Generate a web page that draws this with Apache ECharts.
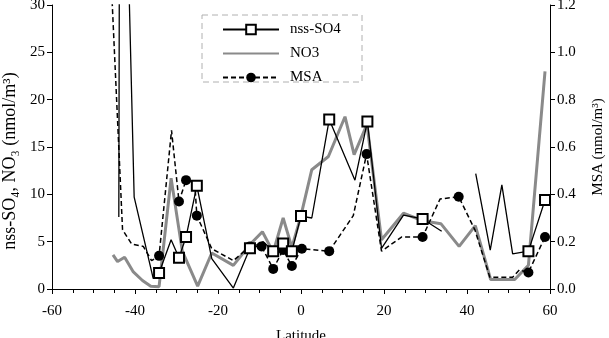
<!DOCTYPE html>
<html>
<head>
<meta charset="utf-8">
<script src="https://cdn.jsdelivr.net/npm/echarts@6/dist/echarts.min.js"></script>
<style>html,body{margin:0;padding:0;background:#fff}#chart{width:609px;height:338px}</style>
</head>
<body>
<div id="chart"></div>
<script>
// nss-SO4 (nmol/m3) - solid line, open squares on the marked samples
const soLat = [-43.9, -43.6, -40.2, -35.6, -34.2, -31.3, -29.4, -27.7, -25.1, -21.5, -16.3, -12.3, -9.1, -6.7, -4.3, -2.2, 0, 2.6, 6.8, 13.0, 16.0, 19.4, 24.7, 29.3, 33.9, 38, 42.1, 45.6, 48.4, 51.0, 54.8, 58.8];
const soVal = [7.6, 70, 9.7, 1.1, 1.7, 5.2, 3.3, 5.5, 10.9, 3.2, 0.1, 4.3, 5.0, 4.0, 4.8, 4.0, 7.7, 7.5, 17.9, 11.5, 17.7, 4.3, 7.8, 7.4, 6.1, null, 12.2, 4.1, 11.0, 3.7, 4.0, 9.4];
const soMarked = [-34.2, -29.4, -27.7, -25.1, -12.3, -6.7, -4.3, -2.2, 0, 6.8, 16.0, 29.3, 54.8, 58.8];

// NO3 (nmol/m3)
const noLat = [-45.3, -44.2, -42.5, -40.4, -38.2, -36.2, -34.2, -31.3, -28.6, -24.9, -21.5, -16.3, -12.3, -9.3, -6.7, -4.3, -2.2, -0.1, 2.6, 6.6, 10.6, 12.8, 15.9, 19.4, 24.7, 29.4, 33.7, 38.1, 42.0, 45.7, 51.5, 54.8, 58.8];
const noVal = [3.6, 2.9, 3.35, 1.8, 0.9, 0.3, 0.25, 11.7, 4.0, 0.3, 3.8, 2.5, 4.7, 6.05, 3.9, 7.5, 4.4, 7.6, 12.6, 14.0, 18.2, 14.2, 17.4, 5.2, 8.0, 7.2, 6.9, 4.5, 6.7, 1.0, 1.0, 2.5, 23.0];

// MSA (nmol/m3), right axis - dashed line, filled circles on the marked samples
const msaLat = [-45.6, -43.0, -40.8, -38.0, -36.0, -34.2, -31.2, -29.4, -27.7, -25.6, -25.1, -21.5, -16.3, -12.3, -9.5, -6.7, -4.3, -2.2, 0.2, 6.8, 12.6, 15.8, 19.4, 24.3, 29.3, 33.5, 38.0, 41.9, 45.5, 51.0, 52.6, 54.8, 58.8];
const msaVal = [1.25, 0.25, 0.19, 0.18, 0.12, 0.14, 0.67, 0.37, 0.46, 0.45, 0.31, 0.17, 0.12, 0.18, 0.18, 0.085, 0.165, 0.097, 0.17, 0.16, 0.31, 0.57, 0.16, 0.22, 0.22, 0.38, 0.39, 0.25, 0.05, 0.05, 0.08, 0.07, 0.22];
const msaMarked = [-34.2, -29.4, -27.7, -25.1, -12.3, -9.5, -6.7, -4.3, -2.2, 0.2, 6.8, 15.8, 29.3, 38.0, 54.8, 58.8];

const xTicks = { min: -60, max: 60, interval: 20 };
const leftTicks = { min: 0, max: 30, interval: 5 };
const rightTicks = { min: 0, max: 1.2, interval: 0.2 };

const FONT = 'Liberation Serif';

function build(lats, vals, marked, sym) {
    return lats.map((x, i) => ({
        value: [x, vals[i] == null ? '-' : vals[i]],
        symbol: marked && marked.includes(x) ? sym : 'none'
    }));
}

const chart = echarts.init(document.getElementById('chart'));

const axisCommon = {
    axisLine: { show: true, onZero: false, lineStyle: { color: '#000', width: 1 } },
    axisTick: { show: true, inside: false, length: 5, lineStyle: { color: '#000' } },
    splitLine: { show: false },
    axisLabel: { color: '#000', fontFamily: FONT, fontSize: 15 },
    nameTextStyle: { color: '#000', fontFamily: FONT, fontSize: 15 }
};

chart.setOption({
    animation: false,
    backgroundColor: '#fff',
    // fixed plot box, labels are allowed to run to (and past) the edge like the original
    grid: { left: 52, right: 59, top: 5, bottom: 49, containLabel: false, outerBoundsMode: 'none' },
    graphic: [{
        type: 'rect',
        shape: { x: 202, y: 15, width: 160, height: 67 },
        style: { fill: 'none', stroke: '#b0b0b0', lineWidth: 1, lineDash: [6, 4] },
        z: 1
    }],
    legend: {
        orient: 'vertical',
        left: 222,
        top: 22,
        padding: 0,
        itemWidth: 56,
        itemHeight: 12,
        itemGap: 9,
        textStyle: { color: '#000', fontFamily: FONT, fontSize: 15, padding: [0, 0, 0, 6] },
        data: [
            { name: 'nss-SO4' },
            { name: 'NO3', itemStyle: { opacity: 0 } },
            { name: 'MSA' }
        ]
    },
    xAxis: Object.assign({}, axisCommon, {
        type: 'value',
        min: xTicks.min, max: xTicks.max, interval: xTicks.interval,
        minorTick: { show: true, splitNumber: 4, length: 4, lineStyle: { color: '#000' } },
        axisLabel: Object.assign({}, axisCommon.axisLabel, { margin: 15 }),
        name: 'Latitude',
        nameLocation: 'middle',
        nameGap: 40
    }),
    yAxis: [
        Object.assign({}, axisCommon, {
            type: 'value', position: 'left',
            min: leftTicks.min, max: leftTicks.max, interval: leftTicks.interval,
            axisLabel: Object.assign({}, axisCommon.axisLabel, { margin: 7 }),
            name: 'nss-SO\u2084, NO\u2083 (nmol/m\u00b3)',
            nameLocation: 'middle',
            nameGap: 28,
            nameTextStyle: { color: '#000', fontFamily: FONT, fontSize: 18, padding: [0, 28, 0, 0] }
        }),
        Object.assign({}, axisCommon, {
            type: 'value', position: 'right',
            min: rightTicks.min, max: rightTicks.max, interval: rightTicks.interval,
            axisLabel: Object.assign({}, axisCommon.axisLabel, { margin: 7, formatter: v => v.toFixed(1) }),
            name: 'MSA (nmol/m\u00b3)',
            nameLocation: 'middle',
            nameGap: 41
        })
    ],
    series: [
        {
            name: 'nss-SO4', type: 'line', yAxisIndex: 0,
            symbol: 'emptyRect', symbolSize: 10,
            data: build(soLat, soVal, soMarked, 'emptyRect'),
            lineStyle: { color: '#000', width: 1.3 },
            itemStyle: { color: '#000', borderWidth: 1.2 },
            connectNulls: false, clip: true, z: 4
        },
        {
            name: 'NO3', type: 'line', yAxisIndex: 0,
            symbol: 'none',
            data: noLat.map((x, i) => [x, noVal[i]]),
            lineStyle: { color: '#8a8a8a', width: 3 },
            itemStyle: { color: '#8a8a8a' },
            clip: true, z: 2
        },
        {
            name: 'MSA', type: 'line', yAxisIndex: 1,
            symbol: 'circle', symbolSize: 10,
            data: build(msaLat, msaVal, msaMarked, 'circle'),
            lineStyle: { color: '#000', width: 1.5, type: [5, 3] },
            itemStyle: { color: '#000' },
            clip: true, z: 3
        }
    ]
});
</script>
</body>
</html>
